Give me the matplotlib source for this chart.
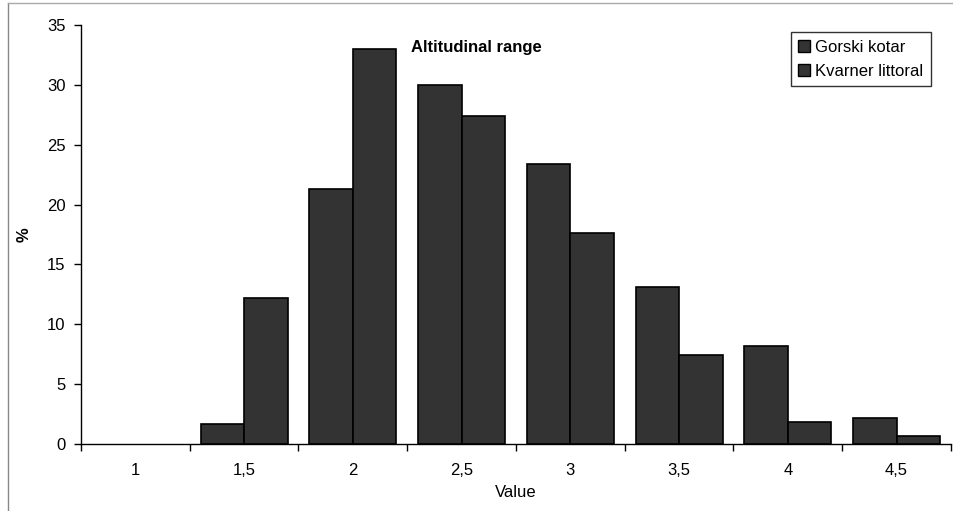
import matplotlib.pyplot as plt
import numpy as np
from matplotlib.lines import Line2D

# Altitudinal range distribution for the two regions (% of records)
categories = ['1', '1,5', '2', '2,5', '3', '3,5', '4', '4,5']
gorski_kotar = [0.0, 1.7, 21.3, 30.0, 23.4, 13.1, 8.2, 2.2]
kvarner_littoral = [0.0, 12.2, 33.0, 27.4, 17.6, 7.4, 1.8, 0.7]

plt.rcParams['font.family'] = ['Liberation Sans', 'DejaVu Sans']
FS = 12

fig = plt.figure(figsize=(9.54, 5.11), dpi=100)
ax = fig.add_axes([81 / 954, 1 - 444 / 511, 870 / 954, 419 / 511])

x = np.arange(len(categories))
width = 0.4
bar_color = '#333333'
for offset, vals, name in [(-width / 2, gorski_kotar, 'Gorski kotar'),
                           (width / 2, kvarner_littoral, 'Kvarner littoral')]:
    # empty classes get no outline
    edges = ['black' if v > 0 else 'none' for v in vals]
    ax.bar(x + offset, vals, width, facecolor=bar_color, edgecolor=edges,
           linewidth=1.2, label=name)

ax.set_xlim(-0.5, len(categories) - 0.5)
ax.set_ylim(0, 35)
ax.set_yticks(np.arange(0, 36, 5))

# category labels centred, tick marks on the group boundaries
ax.set_xticks(x)
ax.set_xticklabels(categories)
ax.tick_params(axis='x', which='major', length=0, pad=14, labelsize=FS)
ax.set_xticks(np.arange(-0.5, len(categories), 1), minor=True)
ax.tick_params(axis='x', which='minor', length=5, width=1, direction='out')
ax.tick_params(axis='y', length=5, width=1, labelsize=FS, pad=6)

ax.spines['top'].set_visible(False)
ax.spines['right'].set_visible(False)
ax.spines['left'].set_linewidth(1)
ax.spines['bottom'].set_linewidth(1)

ax.set_xlabel('Value', fontsize=FS, labelpad=5)
ax.set_ylabel('%', fontsize=FS, fontweight='bold', labelpad=11)
ax.text(0.455, 0.965, 'Altitudinal range', transform=ax.transAxes, ha='center',
        va='top', fontsize=FS, fontweight='bold')

leg = ax.legend(loc='upper right', bbox_to_anchor=(0.9765, 0.983), fontsize=FS,
                frameon=True, fancybox=False, handlelength=0.7, handleheight=0.7,
                handletextpad=0.3, borderpad=0.45, labelspacing=0.55,
                borderaxespad=0)
leg.get_frame().set_edgecolor('black')
leg.get_frame().set_linewidth(1)
for h in leg.legend_handles:
    h.set_edgecolor('black')
    h.set_linewidth(1)

# outer chart frame
fig.add_artist(Line2D([8 / 954, 8 / 954], [0, 1 - 3 / 511], transform=fig.transFigure,
                      color='#888888', linewidth=1))
fig.add_artist(Line2D([8 / 954, 1], [1 - 3 / 511, 1 - 3 / 511], transform=fig.transFigure,
                      color='#aaaaaa', linewidth=1))

fig.savefig('out.png', dpi=100)
